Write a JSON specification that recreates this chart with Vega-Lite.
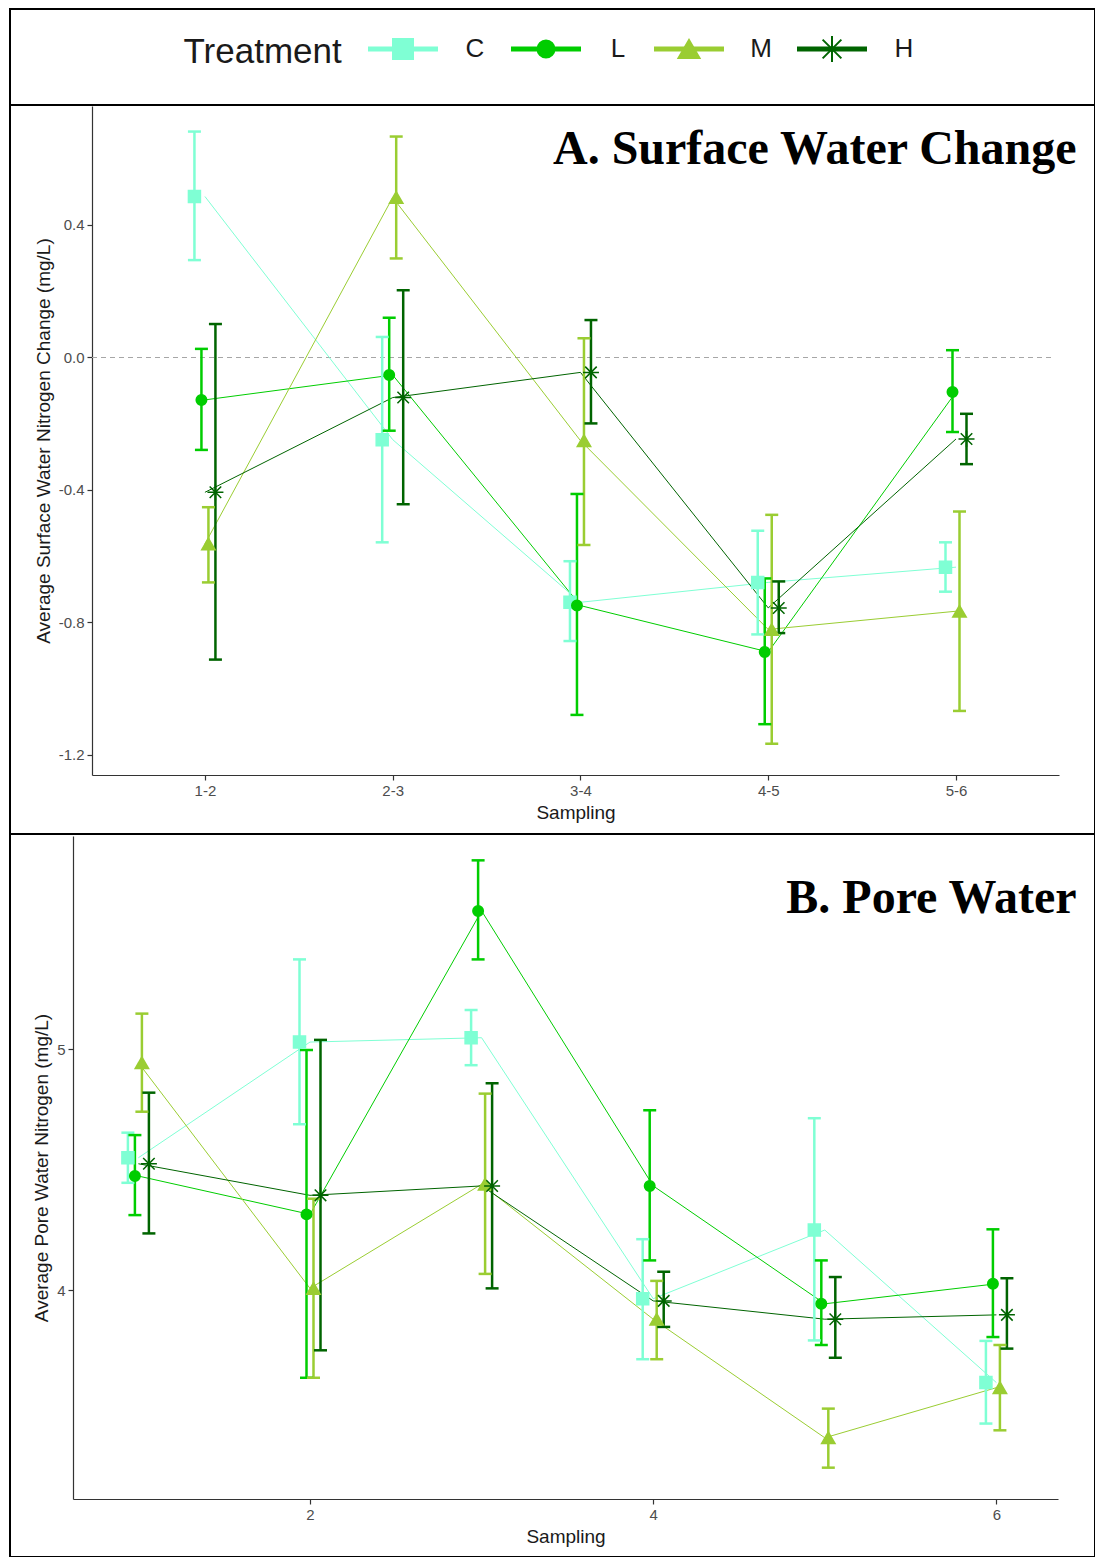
{
  "$schema": "https://vega.github.io/schema/vega-lite/v6.json",
  "background": "white",
  "padding": {"left": 9, "top": 8, "right": 1, "bottom": 1},
  "spacing": 0,
  "bounds": "flush",
  "config": {
    "font": "Liberation Sans",
    "view": {"stroke": "black", "strokeWidth": 2},
    "axis": {
      "grid": false,
      "domainColor": "#333333",
      "domainWidth": 1.2,
      "tickColor": "#333333",
      "tickWidth": 1.2,
      "tickSize": 5,
      "labelPadding": 3,
      "labelColor": "#4d4d4d",
      "labelFontSize": 15,
      "labelFont": "Liberation Sans",
      "titleFont": "Liberation Sans",
      "titleFontSize": 19,
      "titleFontWeight": "normal",
      "titleColor": "#1a1a1a"
    }
  },
  "resolve": {
    "scale": {"x": "independent", "y": "independent", "color": "independent", "shape": "independent", "size": "independent", "stroke": "independent"}
  },
  "datasets": {
    "legendItems": [
      {"Treatment": "C"}, {"Treatment": "L"}, {"Treatment": "M"}, {"Treatment": "H"}
    ],
    "surface": [
      {"Sampling": "1-2", "Treatment": "C", "mean": 0.486, "lo": 0.294, "hi": 0.682},
      {"Sampling": "1-2", "Treatment": "L", "mean": -0.128, "lo": -0.279, "hi": 0.026},
      {"Sampling": "1-2", "Treatment": "M", "mean": -0.563, "lo": -0.679, "hi": -0.452},
      {"Sampling": "1-2", "Treatment": "H", "mean": -0.407, "lo": -0.912, "hi": 0.101},
      {"Sampling": "2-3", "Treatment": "C", "mean": -0.248, "lo": -0.558, "hi": 0.062},
      {"Sampling": "2-3", "Treatment": "L", "mean": -0.053, "lo": -0.221, "hi": 0.12},
      {"Sampling": "2-3", "Treatment": "M", "mean": 0.483, "lo": 0.299, "hi": 0.667},
      {"Sampling": "2-3", "Treatment": "H", "mean": -0.121, "lo": -0.443, "hi": 0.203},
      {"Sampling": "3-4", "Treatment": "C", "mean": -0.739, "lo": -0.856, "hi": -0.615},
      {"Sampling": "3-4", "Treatment": "L", "mean": -0.749, "lo": -1.079, "hi": -0.412},
      {"Sampling": "3-4", "Treatment": "M", "mean": -0.251, "lo": -0.566, "hi": 0.058},
      {"Sampling": "3-4", "Treatment": "H", "mean": -0.045, "lo": -0.199, "hi": 0.113},
      {"Sampling": "4-5", "Treatment": "C", "mean": -0.679, "lo": -0.836, "hi": -0.523},
      {"Sampling": "4-5", "Treatment": "L", "mean": -0.889, "lo": -1.107, "hi": -0.667},
      {"Sampling": "4-5", "Treatment": "M", "mean": -0.821, "lo": -1.166, "hi": -0.475},
      {"Sampling": "4-5", "Treatment": "H", "mean": -0.756, "lo": -0.832, "hi": -0.676},
      {"Sampling": "5-6", "Treatment": "C", "mean": -0.633, "lo": -0.707, "hi": -0.558},
      {"Sampling": "5-6", "Treatment": "L", "mean": -0.104, "lo": -0.225, "hi": 0.022},
      {"Sampling": "5-6", "Treatment": "M", "mean": -0.766, "lo": -1.067, "hi": -0.465},
      {"Sampling": "5-6", "Treatment": "H", "mean": -0.246, "lo": -0.322, "hi": -0.17}
    ],
    "pore": [
      {"Sampling": 1, "Treatment": "C", "mean": 4.55, "lo": 4.446, "hi": 4.654},
      {"Sampling": 1, "Treatment": "L", "mean": 4.474, "lo": 4.312, "hi": 4.644},
      {"Sampling": 1, "Treatment": "M", "mean": 4.944, "lo": 4.741, "hi": 5.148},
      {"Sampling": 1, "Treatment": "H", "mean": 4.525, "lo": 4.236, "hi": 4.82},
      {"Sampling": 2, "Treatment": "C", "mean": 5.03, "lo": 4.689, "hi": 5.373},
      {"Sampling": 2, "Treatment": "L", "mean": 4.315, "lo": 3.637, "hi": 4.997},
      {"Sampling": 2, "Treatment": "M", "mean": 4.008, "lo": 3.637, "hi": 4.38},
      {"Sampling": 2, "Treatment": "H", "mean": 4.394, "lo": 3.751, "hi": 5.039},
      {"Sampling": 3, "Treatment": "C", "mean": 5.048, "lo": 4.934, "hi": 5.163},
      {"Sampling": 3, "Treatment": "L", "mean": 5.574, "lo": 5.373, "hi": 5.784},
      {"Sampling": 3, "Treatment": "M", "mean": 4.44, "lo": 4.068, "hi": 4.816},
      {"Sampling": 3, "Treatment": "H", "mean": 4.433, "lo": 4.008, "hi": 4.859},
      {"Sampling": 4, "Treatment": "C", "mean": 3.965, "lo": 3.714, "hi": 4.212},
      {"Sampling": 4, "Treatment": "L", "mean": 4.433, "lo": 4.124, "hi": 4.747},
      {"Sampling": 4, "Treatment": "M", "mean": 3.88, "lo": 3.714, "hi": 4.039},
      {"Sampling": 4, "Treatment": "H", "mean": 3.956, "lo": 3.848, "hi": 4.077},
      {"Sampling": 5, "Treatment": "C", "mean": 4.25, "lo": 3.792, "hi": 4.714},
      {"Sampling": 5, "Treatment": "L", "mean": 3.944, "lo": 3.773, "hi": 4.124},
      {"Sampling": 5, "Treatment": "M", "mean": 3.388, "lo": 3.264, "hi": 3.509},
      {"Sampling": 5, "Treatment": "H", "mean": 3.88, "lo": 3.72, "hi": 4.055},
      {"Sampling": 6, "Treatment": "C", "mean": 3.617, "lo": 3.447, "hi": 3.79},
      {"Sampling": 6, "Treatment": "L", "mean": 4.027, "lo": 3.806, "hi": 4.253},
      {"Sampling": 6, "Treatment": "M", "mean": 3.596, "lo": 3.419, "hi": 3.773},
      {"Sampling": 6, "Treatment": "H", "mean": 3.898, "lo": 3.758, "hi": 4.05}
    ]
  },
  "vconcat": [
    {
      "width": 1085,
      "height": 96,
      "data": {"name": "legendItems"},
      "encoding": {
        "x": {
          "field": "Treatment", "type": "nominal",
          "scale": {"type": "point", "domain": ["C", "L", "M", "H"], "range": [393, 822], "padding": 0},
          "axis": {
            "orient": "top", "domain": false, "ticks": false, "labels": false,
            "title": "Treatment", "titleX": 173, "titleY": 53,
            "titleAlign": "left", "titleAnchor": null, "titleBaseline": "alphabetic",
            "titleFont": "Liberation Sans", "titleFontSize": 35, "titleFontWeight": "normal", "titleColor": "#1a1a1a"
          }
        },
        "color": {
          "field": "Treatment", "type": "nominal",
          "scale": {"domain": ["C", "L", "M", "H"], "range": ["#7FFFD4", "#00CD00", "#9ACD32", "#006400"]},
          "legend": null
        }
      },
      "layer": [
        {
          "mark": {"type": "tick", "orient": "horizontal", "size": 70, "thickness": 5, "opacity": 1, "yOffset": -8}
        },
        {
          "mark": {"type": "point", "filled": true, "opacity": 1, "strokeWidth": 2, "yOffset": -8},
          "encoding": {
            "shape": {
              "field": "Treatment", "type": "nominal",
              "scale": {"domain": ["C", "L", "M", "H"], "range": ["square", "circle", "triangle-up", "M-1,0L1,0M0,-1L0,1M-0.72,-0.72L0.72,0.72M-0.72,0.72L0.72,-0.72"]},
              "legend": null
            },
            "size": {
              "field": "Treatment", "type": "nominal",
              "scale": {"type": "ordinal", "domain": ["C", "L", "M", "H"], "range": [400, 289, 441, 676]},
              "legend": null
            },
            "stroke": {
              "field": "Treatment", "type": "nominal",
              "scale": {"domain": ["C", "L", "M", "H"], "range": ["#7FFFD4", "#00CD00", "#9ACD32", "#006400"]},
              "legend": null
            }
          }
        },
        {
          "mark": {"type": "text", "dx": 72, "dy": -8, "align": "center", "baseline": "middle", "fontSize": 26, "font": "Liberation Sans"},
          "encoding": {
            "text": {"field": "Treatment"},
            "color": {"value": "#1a1a1a"}
          }
        }
      ]
    },
    {
      "width": 1085,
      "height": 729,
      "resolve": {"scale": {"x": "independent"}},
      "layer": [
        {
          "data": {"values": [{}]},
          "mark": {"type": "rule", "strokeDash": [5, 4], "strokeWidth": 1.2, "color": "#a6a6a6"},
          "encoding": {
            "x": {
              "datum": 0, "type": "quantitative",
              "scale": {"domain": [0, 1], "range": [82, 1043]},
              "axis": {
                "orient": "top", "domain": false, "ticks": false, "labels": false,
                "title": "A. Surface Water Change", "titleX": 1066, "titleY": 58,
                "titleAlign": "right", "titleAnchor": null, "titleBaseline": "alphabetic",
                "titleFont": "Liberation Serif", "titleFontSize": 48, "titleFontWeight": "bold", "titleColor": "black"
              }
            },
            "x2": {"datum": 1},
            "y": {
              "datum": 0, "type": "quantitative",
              "title": "Average Surface Water Nitrogen Change (mg/L)",
              "scale": {"domain": [-1.2604, 0.7592], "range": [670, 1], "nice": false, "zero": false}
            }
          }
        },
        {
          "data": {"name": "surface"},
          "encoding": {
            "x": {
              "field": "Sampling", "type": "ordinal", "title": "Sampling",
              "scale": {"type": "point", "domain": ["1-2", "2-3", "3-4", "4-5", "5-6"], "range": [82, 1049], "padding": 0.575, "align": 0.523},
              "axis": {"labelAngle": 0, "offset": -59, "titlePadding": 5}
            },
            "y": {
              "field": "mean", "type": "quantitative",
              "title": "Average Surface Water Nitrogen Change (mg/L)",
              "scale": {"domain": [-1.2604, 0.7592], "range": [670, 1], "nice": false, "zero": false},
              "axis": {
                "values": [-1.2, -0.8, -0.4, 0, 0.4],
                "labelExpr": "replace(format(datum.value, '.1f'), '\u2212', '-')",
                "offset": -82, "titlePadding": 5
              }
            },
            "color": {
              "field": "Treatment", "type": "nominal",
              "scale": {"domain": ["C", "L", "M", "H"], "range": ["#7FFFD4", "#00CD00", "#9ACD32", "#006400"]},
              "legend": null
            }
          },
          "layer": [
            {
              "mark": {"type": "line", "strokeWidth": 1}
            },
            {
              "mark": {"type": "rule", "strokeWidth": 2.5},
              "encoding": {
                "y": {"field": "lo", "type": "quantitative", "title": "Average Surface Water Nitrogen Change (mg/L)"},
                "y2": {"field": "hi"},
                "xOffset": {"field": "Treatment", "type": "nominal", "scale": {"type": "point", "domain": ["C", "L", "M", "H"], "range": [-14, 14]}}
              }
            },
            {
              "mark": {"type": "tick", "orient": "horizontal", "size": 13, "thickness": 2.5, "opacity": 1},
              "encoding": {
                "y": {"field": "lo", "type": "quantitative", "title": "Average Surface Water Nitrogen Change (mg/L)"},
                "xOffset": {"field": "Treatment", "type": "nominal", "scale": {"type": "point", "domain": ["C", "L", "M", "H"], "range": [-14, 14]}}
              }
            },
            {
              "mark": {"type": "tick", "orient": "horizontal", "size": 13, "thickness": 2.5, "opacity": 1},
              "encoding": {
                "y": {"field": "hi", "type": "quantitative", "title": "Average Surface Water Nitrogen Change (mg/L)"},
                "xOffset": {"field": "Treatment", "type": "nominal", "scale": {"type": "point", "domain": ["C", "L", "M", "H"], "range": [-14, 14]}}
              }
            },
            {
              "mark": {"type": "point", "filled": true, "opacity": 1, "strokeWidth": 1.5},
              "encoding": {
                "xOffset": {"field": "Treatment", "type": "nominal", "scale": {"type": "point", "domain": ["C", "L", "M", "H"], "range": [-14, 14]}},
                "shape": {
                  "field": "Treatment", "type": "nominal",
                  "scale": {"domain": ["C", "L", "M", "H"], "range": ["square", "circle", "triangle-up", "M-1,0L1,0M0,-1L0,1M-0.72,-0.72L0.72,0.72M-0.72,0.72L0.72,-0.72"]},
                  "legend": null
                },
                "size": {
                  "field": "Treatment", "type": "nominal",
                  "scale": {"type": "ordinal", "domain": ["C", "L", "M", "H"], "range": [144, 110, 180, 256]},
                  "legend": null
                },
                "stroke": {
                  "field": "Treatment", "type": "nominal",
                  "scale": {"domain": ["C", "L", "M", "H"], "range": ["#7FFFD4", "#00CD00", "#9ACD32", "#006400"]},
                  "legend": null
                }
              }
            }
          ]
        }
      ]
    },
    {
      "width": 1085,
      "height": 723,
      "resolve": {"scale": {"x": "independent"}},
      "layer": [
        {
          "data": {"values": []},
          "mark": {"type": "rule"},
          "encoding": {
            "x": {
              "field": "frame", "type": "quantitative",
              "scale": {"domain": [0, 1], "range": [63, 1048]},
              "axis": {
                "orient": "top", "domain": false, "ticks": false, "labels": false,
                "title": "B. Pore Water", "titleX": 1066, "titleY": 78,
                "titleAlign": "right", "titleAnchor": null, "titleBaseline": "alphabetic",
                "titleFont": "Liberation Serif", "titleFontSize": 48, "titleFontWeight": "bold", "titleColor": "black"
              }
            }
          }
        },
        {
          "data": {"name": "pore"},
          "encoding": {
            "x": {
              "field": "Sampling", "type": "ordinal", "title": "Sampling",
              "scale": {"type": "point", "domain": [1, 2, 3, 4, 5, 6], "range": [63, 1048], "padding": 0.37, "align": 0.515},
              "axis": {"labelAngle": 0, "values": [2, 4, 6], "offset": -58, "titlePadding": 5}
            },
            "y": {
              "field": "mean", "type": "quantitative",
              "title": "Average Pore Water Nitrogen (mg/L)",
              "scale": {"domain": [3.134, 5.885], "range": [665, 2], "nice": false, "zero": false},
              "axis": {"values": [4, 5], "offset": -63, "titlePadding": 5}
            },
            "color": {
              "field": "Treatment", "type": "nominal",
              "scale": {"domain": ["C", "L", "M", "H"], "range": ["#7FFFD4", "#00CD00", "#9ACD32", "#006400"]},
              "legend": null
            }
          },
          "layer": [
            {
              "mark": {"type": "line", "strokeWidth": 1}
            },
            {
              "mark": {"type": "rule", "strokeWidth": 2.5},
              "encoding": {
                "y": {"field": "lo", "type": "quantitative", "title": "Average Pore Water Nitrogen (mg/L)"},
                "y2": {"field": "hi"},
                "xOffset": {"field": "Treatment", "type": "nominal", "scale": {"type": "point", "domain": ["C", "L", "M", "H"], "range": [-13, 13]}}
              }
            },
            {
              "mark": {"type": "tick", "orient": "horizontal", "size": 13, "thickness": 2.5, "opacity": 1},
              "encoding": {
                "y": {"field": "lo", "type": "quantitative", "title": "Average Pore Water Nitrogen (mg/L)"},
                "xOffset": {"field": "Treatment", "type": "nominal", "scale": {"type": "point", "domain": ["C", "L", "M", "H"], "range": [-13, 13]}}
              }
            },
            {
              "mark": {"type": "tick", "orient": "horizontal", "size": 13, "thickness": 2.5, "opacity": 1},
              "encoding": {
                "y": {"field": "hi", "type": "quantitative", "title": "Average Pore Water Nitrogen (mg/L)"},
                "xOffset": {"field": "Treatment", "type": "nominal", "scale": {"type": "point", "domain": ["C", "L", "M", "H"], "range": [-13, 13]}}
              }
            },
            {
              "mark": {"type": "point", "filled": true, "opacity": 1, "strokeWidth": 1.5},
              "encoding": {
                "xOffset": {"field": "Treatment", "type": "nominal", "scale": {"type": "point", "domain": ["C", "L", "M", "H"], "range": [-13, 13]}},
                "shape": {
                  "field": "Treatment", "type": "nominal",
                  "scale": {"domain": ["C", "L", "M", "H"], "range": ["square", "circle", "triangle-up", "M-1,0L1,0M0,-1L0,1M-0.72,-0.72L0.72,0.72M-0.72,0.72L0.72,-0.72"]},
                  "legend": null
                },
                "size": {
                  "field": "Treatment", "type": "nominal",
                  "scale": {"type": "ordinal", "domain": ["C", "L", "M", "H"], "range": [144, 110, 180, 256]},
                  "legend": null
                },
                "stroke": {
                  "field": "Treatment", "type": "nominal",
                  "scale": {"domain": ["C", "L", "M", "H"], "range": ["#7FFFD4", "#00CD00", "#9ACD32", "#006400"]},
                  "legend": null
                }
              }
            }
          ]
        }
      ]
    }
  ]
}
